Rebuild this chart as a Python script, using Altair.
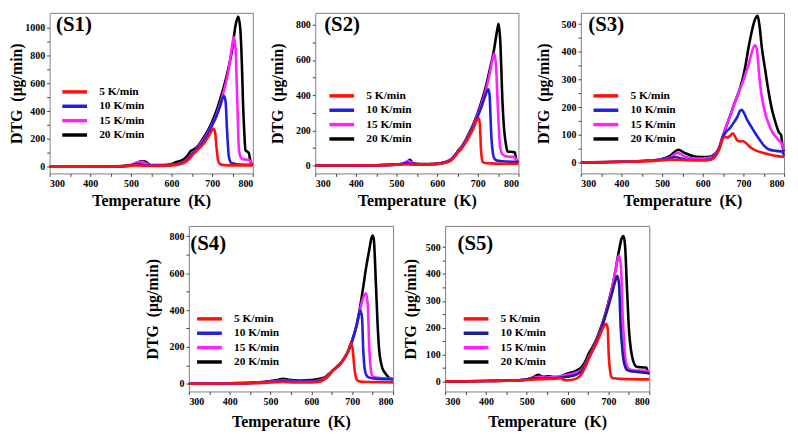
import altair as alt
import pandas as pd

# ---------------- data ----------------
series = ["\u20075 K/min", "10 K/min", "15 K/min", "20 K/min"]
panel_names = ["(S1)", "(S2)", "(S3)", "(S4)", "(S5)"]
x_ticks = [300, 350, 400, 450, 500, 550, 600, 650, 700, 750, 800]

# S1
s1_5_t = [300, 400, 460, 500, 515, 530, 560, 600, 620, 635, 645, 650, 660, 670, 680, 690, 698, 703, 707, 711, 715, 720, 730, 760, 800]
s1_5_y = [0, 0, 2, 8, 10, 7, 6, 10, 18, 35, 60, 80, 110, 140, 170, 215, 255, 274, 250, 130, 40, 18, 12, 10, 10]
s1_10_t = [300, 400, 480, 500, 515, 525, 540, 560, 600, 620, 635, 645, 652, 660, 670, 680, 690, 700, 710, 720, 726, 729, 733, 737, 741, 745, 750, 760, 780, 800]
s1_10_y = [0, 0, 3, 10, 20, 18, 8, 7, 12, 22, 40, 70, 95, 115, 150, 190, 240, 300, 360, 440, 495, 511, 470, 240, 75, 35, 25, 18, 15, 15]
s1_15_t = [300, 400, 480, 500, 515, 525, 535, 550, 600, 620, 635, 645, 652, 660, 670, 680, 690, 700, 710, 720, 730, 740, 748, 753, 757, 762, 766, 770, 775, 790, 796, 800]
s1_15_y = [0, 0, 4, 12, 30, 35, 28, 10, 14, 25, 45, 75, 100, 120, 160, 200, 250, 305, 370, 455, 560, 690, 850, 935, 870, 452, 119, 70, 55, 50, 30, 15]
s1_20_t = [300, 400, 480, 500, 515, 525, 535, 548, 580, 600, 612, 625, 638, 648, 655, 662, 670, 680, 690, 700, 710, 720, 730, 740, 750, 757, 764, 769, 773, 776, 779, 782, 786, 790, 795, 800]
s1_20_y = [0, 0, 5, 12, 30, 40, 38, 12, 12, 20, 35, 45, 75, 115, 125, 140, 170, 215, 265, 325, 400, 490, 590, 710, 860, 1010, 1083, 1000, 750, 452, 250, 119, 110, 100, 30, 15]

# S2
s2_5_t = [300, 400, 500, 520, 540, 600, 620, 635, 645, 650, 660, 670, 680, 690, 697, 702, 705, 708, 712, 718, 730, 760, 800]
s2_5_y = [0, 0, 4, 6, 5, 8, 15, 30, 55, 72, 95, 130, 170, 215, 255, 270, 240, 86, 21, 14, 12, 10, 10]
s2_10_t = [300, 400, 500, 515, 525, 535, 560, 600, 620, 635, 645, 650, 660, 670, 680, 690, 700, 710, 718, 723, 726, 729, 733, 736, 739, 745, 760, 800]
s2_10_y = [0, 0, 5, 10, 15, 8, 6, 9, 17, 33, 58, 75, 100, 135, 178, 225, 280, 340, 395, 425, 434, 400, 180, 90, 49, 30, 24, 20]
s2_15_t = [300, 400, 500, 515, 525, 530, 540, 560, 600, 620, 635, 645, 650, 660, 670, 680, 690, 700, 710, 720, 730, 737, 741, 745, 749, 755, 762, 775, 790, 795, 800]
s2_15_y = [0, 0, 5, 10, 22, 27, 10, 7, 10, 18, 35, 60, 78, 103, 140, 183, 232, 290, 355, 430, 530, 610, 637, 560, 349, 105, 60, 50, 49, 30, 25]
s2_20_t = [300, 400, 500, 520, 528, 533, 540, 560, 600, 620, 635, 645, 650, 660, 670, 680, 690, 700, 710, 720, 730, 740, 747, 751, 755, 761, 765, 769, 773, 785, 791, 795, 800]
s2_20_y = [0, 0, 5, 12, 25, 32, 12, 8, 11, 20, 37, 62, 80, 106, 145, 190, 240, 300, 370, 450, 550, 660, 760, 806, 720, 349, 200, 124, 80, 77, 75, 30, 20]

# S3
s3_5_t = [300, 400, 480, 520, 540, 560, 600, 620, 630, 640, 649, 655, 661, 668, 674, 680, 686, 692, 698, 705, 712, 720, 730, 745, 762, 780, 800]
s3_5_y = [0, 3, 6, 10, 10, 8, 8, 10, 20, 45, 85, 92, 90, 98, 106, 92, 78, 76, 78, 72, 62, 52, 44, 36, 30, 24, 20]
s3_10_t = [300, 400, 480, 520, 532, 545, 560, 600, 620, 630, 640, 649, 657, 667, 677, 685, 691, 696, 701, 710, 720, 730, 740, 750, 762, 780, 795, 800]
s3_10_y = [0, 3, 7, 15, 20, 15, 10, 8, 12, 25, 50, 92, 110, 125, 146, 165, 185, 191, 180, 152, 128, 104, 82, 62, 48, 42, 40, 25]
s3_15_t = [300, 400, 480, 520, 538, 555, 580, 600, 620, 630, 640, 649, 660, 670, 680, 690, 697, 705, 712, 720, 728, 733, 738, 742, 748, 754, 762, 771, 780, 787, 793, 796, 800]
s3_15_y = [0, 3, 8, 18, 35, 22, 14, 14, 18, 30, 55, 95, 140, 180, 220, 260, 285, 320, 350, 395, 424, 410, 330, 271, 215, 176, 140, 110, 92, 80, 72, 60, 45]
s3_20_t = [300, 400, 480, 520, 540, 555, 580, 600, 620, 630, 640, 649, 660, 669, 677, 685, 692, 697, 705, 712, 720, 728, 735, 740, 745, 754, 762, 771, 780, 787, 793, 796, 800]
s3_20_y = [0, 3, 8, 25, 46, 35, 22, 20, 22, 32, 50, 92, 140, 176, 210, 241, 270, 295, 350, 410, 470, 515, 530, 490, 420, 331, 255, 187, 140, 110, 98, 60, 40]

# S4
s4_5_t = [300, 400, 480, 500, 530, 560, 600, 620, 636, 645, 652, 660, 670, 680, 690, 697, 701, 705, 709, 713, 720, 740, 800]
s4_5_y = [0, 2, 5, 8, 10, 8, 8, 12, 30, 50, 70, 85, 105, 135, 175, 218, 190, 93, 35, 18, 12, 10, 8]
s4_10_t = [300, 400, 480, 500, 530, 560, 600, 620, 636, 645, 652, 660, 670, 680, 690, 700, 710, 716, 720, 724, 727, 730, 733, 740, 760, 800]
s4_10_y = [0, 2, 6, 10, 14, 12, 12, 16, 32, 52, 70, 86, 106, 136, 176, 235, 310, 370, 398, 360, 183, 90, 55, 35, 27, 25]
s4_15_t = [300, 400, 480, 500, 530, 560, 600, 620, 636, 645, 652, 660, 670, 680, 690, 700, 710, 718, 726, 734, 738, 742, 745, 748, 755, 780, 800]
s4_15_y = [0, 2, 8, 12, 18, 15, 15, 20, 35, 55, 71, 87, 107, 137, 177, 235, 310, 390, 460, 491, 430, 183, 90, 48, 35, 30, 28]
s4_20_t = [300, 400, 480, 500, 520, 530, 545, 570, 600, 620, 636, 645, 652, 660, 670, 680, 690, 700, 710, 718, 726, 734, 742, 747, 750, 753, 758, 762, 766, 770, 774, 780, 786, 792, 800]
s4_20_y = [0, 3, 10, 15, 22, 28, 22, 18, 20, 27, 40, 58, 72, 88, 108, 138, 178, 235, 310, 400, 510, 630, 730, 790, 804, 780, 541, 330, 183, 120, 84, 60, 43, 30, 25]

# S5
s5_5_t = [300, 400, 480, 500, 530, 560, 585, 592, 600, 620, 635, 645, 652, 660, 670, 680, 688, 694, 698, 701, 704, 707, 712, 730, 800]
s5_5_y = [0, 2, 4, 6, 8, 10, 12, 5, 5, 10, 30, 60, 85, 110, 140, 175, 203, 215, 200, 92, 40, 18, 12, 10, 8]
s5_10_t = [300, 400, 480, 500, 520, 540, 560, 580, 600, 620, 635, 645, 652, 660, 670, 680, 690, 700, 710, 716, 722, 726, 730, 734, 737, 741, 745, 760, 790, 800]
s5_10_y = [0, 2, 5, 8, 12, 12, 12, 14, 18, 25, 40, 65, 88, 112, 145, 185, 230, 280, 335, 370, 393, 360, 203, 120, 80, 55, 43, 37, 33, 30]
s5_15_t = [300, 400, 480, 500, 520, 530, 545, 560, 580, 600, 620, 635, 645, 652, 660, 670, 680, 690, 700, 710, 718, 726, 731, 735, 738, 741, 745, 749, 760, 790, 800]
s5_15_y = [0, 2, 5, 8, 15, 18, 15, 17, 20, 25, 33, 45, 70, 92, 116, 150, 190, 235, 290, 355, 420, 470, 420, 240, 160, 92, 60, 49, 42, 40, 38]
s5_20_t = [300, 400, 480, 500, 515, 528, 540, 555, 570, 600, 620, 635, 645, 652, 660, 670, 680, 690, 700, 712, 725, 732, 737, 741, 745, 751, 755, 760, 769, 780, 793, 797, 800]
s5_20_y = [0, 2, 5, 8, 15, 25, 18, 20, 15, 30, 40, 55, 80, 105, 125, 155, 195, 240, 295, 370, 480, 530, 541, 500, 362, 178, 120, 80, 55, 53, 52, 33, 30]

# ---------------- styling ----------------
FONT = "Liberation Serif"
colors_main = ["#ff1010", "#1f1fe0", "#ff20ff", "#000000"]
colors_s5 = ["#ff1010", "#1c1c96", "#ff20ff", "#000000"]


def panel(name, pairs, ydom, ymax, ystep, colors, w, h, leg_x, leg_y, lab_x, lab_y, ytitle_x, xtitle_y):
    rows = []
    # draw black first, red last (on top)
    for s, (t, y) in reversed(list(zip(series, pairs))):
        for a, b in zip(t, y):
            rows.append({"T": a, "DTG": b, "rate": s})
    df = pd.DataFrame(rows)
    half = ystep // 2
    yvals = list(range(0, ymax + 1, half))
    lines = alt.Chart(df).mark_line(strokeWidth=2.6, interpolate="monotone").encode(
        x=alt.X("T:Q", scale=alt.Scale(domain=[300, 800], nice=False),
                axis=alt.Axis(values=x_ticks, title="Temperature\u2002(K)", titleX=w / 2,
                              titleY=xtitle_y, titleBaseline="middle", tickSize=3, format="d",
                              labelExpr="datum.value % 100 == 0 ? datum.label : ''")),
        y=alt.Y("DTG:Q", scale=alt.Scale(domain=ydom, nice=False, zero=False),
                axis=alt.Axis(values=yvals, title="DTG\u2002(\u03bcg/min)", titleX=ytitle_x,
                              titleY=h / 2, titleBaseline="middle", titleAngle=270, tickSize=3,
                              format="d",
                              labelExpr=f"datum.value % {ystep} == 0 ? datum.label : ''")),
        color=alt.Color("rate:N", scale=alt.Scale(domain=series, range=colors),
                        legend=alt.Legend(orient="none", legendX=leg_x, legendY=leg_y, title=None,
                                          symbolType="M-5,0H5", symbolSize=25, symbolStrokeWidth=3.5,
                                          symbolOffset=12.5, rowPadding=-0.5, labelOffset=19,
                                          labelFont=FONT, labelFontWeight="bold", labelFontSize=11.5,
                                          labelColor="#000")),
    )
    label = alt.Chart(pd.DataFrame({"name": [name]})).mark_text(
        font=FONT, fontWeight="bold", fontSize=21, align="left", baseline="alphabetic", color="#000"
    ).encode(x=alt.value(lab_x), y=alt.value(lab_y), text="name:N")
    return alt.layer(lines, label).properties(width=w, height=h)


p1 = panel(panel_names[0], [(s1_5_t, s1_5_y), (s1_10_t, s1_10_y), (s1_15_t, s1_15_y), (s1_20_t, s1_20_y)],
           [-48, 1109], 1000, 200, colors_main, 205, 162, 7, 74, 6.5, 18, -33, 27)
p2 = panel(panel_names[1], [(s2_5_t, s2_5_y), (s2_10_t, s2_10_y), (s2_15_t, s2_15_y), (s2_20_t, s2_20_y)],
           [-45, 868], 800, 200, colors_main, 205, 162, 8.5, 78, 9, 18, -38, 27)
p3 = panel(panel_names[2], [(s3_5_t, s3_5_y), (s3_10_t, s3_10_y), (s3_15_t, s3_15_y), (s3_20_t, s3_20_y)],
           [-39.4, 541], 500, 100, colors_main, 205, 162, 7, 78, 7.5, 18, -38, 27)
p4 = panel(panel_names[3], [(s4_5_t, s4_5_y), (s4_10_t, s4_10_y), (s4_15_t, s4_15_y), (s4_20_t, s4_20_y)],
           [-41.4, 856], 800, 200, colors_main, 206, 167, 2.5, 88, 1.5, 24, -36.5, 30)
p5 = panel(panel_names[4], [(s5_5_t, s5_5_y), (s5_10_t, s5_10_y), (s5_15_t, s5_15_y), (s5_20_t, s5_20_y)],
           [-36.9, 578.7], 500, 100, colors_s5, 206, 167, 13, 88, 12.5, 24, -34.5, 30)

spacer = alt.Chart(pd.DataFrame({"v": [0]})).mark_point(opacity=0).properties(
    width=87.5, height=167, view=alt.ViewBackground(strokeOpacity=0))

top = alt.hconcat(p1, p2, p3, spacing=63, bounds="flush").resolve_scale(color="independent")
bottom = alt.hconcat(spacer, p4, p5, spacing=52.5, bounds="flush").resolve_scale(color="independent")

chart = alt.vconcat(top, bottom, spacing=16).resolve_scale(color="independent").properties(
    padding=0, background="white"
).configure_view(
    stroke="#808080", strokeWidth=1
).configure_axis(
    grid=False, domain=False, labelFont=FONT, labelFontWeight="bold", labelFontSize=10,
    labelColor="#000", labelPadding=2, tickColor="#444", titleFont=FONT, titleFontWeight="bold",
    titleFontSize=16, titleColor="#000"
)

chart.save("out.html", embed_options={"renderer": "svg", "actions": False})
